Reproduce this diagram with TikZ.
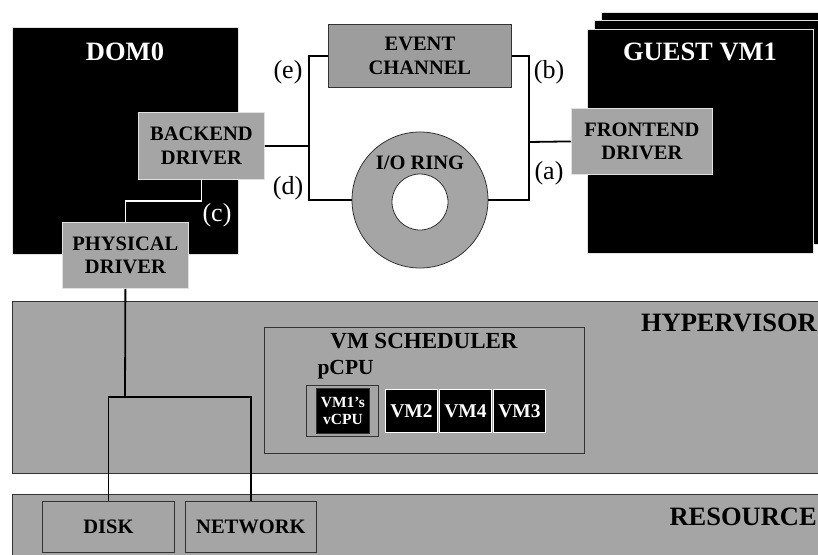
\documentclass[tikz,border=0pt]{standalone}
\usepackage{fontspec}
\setmainfont{Liberation Serif}
\begin{document}
\definecolor{boxgray}{RGB}{165,165,165}
\definecolor{edgelight}{RGB}{225,225,225}
\begin{tikzpicture}[x=1pt,y=-1pt,
  blk/.style={fill=black,draw=edgelight,line width=0.8pt,anchor=north west,inner sep=0pt},
  gbox/.style={fill=boxgray,draw=edgelight,line width=0.8pt,anchor=north west,inner sep=0pt,align=center,font=\fontsize{20.5}{23.5}\selectfont\bfseries},
  layer/.style={fill=boxgray,draw=black!80,line width=0.8pt,anchor=north west,inner sep=0pt},
  vmbox/.style={fill=black,draw=white,line width=0.8pt,anchor=north west,inner sep=0pt,text=white,align=center},
  title/.style={font=\fontsize{26.5}{29}\selectfont\bfseries},
  lbl/.style={font=\fontsize{26}{28}\selectfont},
  wire/.style={line width=1.8pt,black},
  wwire/.style={line width=1.8pt,white}]
\useasboundingbox (0,0) rectangle (818,554);
\clip (0,0) rectangle (818,554);
% layers
\node[layer,minimum width=830pt,minimum height=172pt] (hyp) at (12,301) {};
\node[layer,minimum width=830pt,minimum height=80pt] (res) at (12,494) {};
\node[title,anchor=east,inner sep=0pt] (hyptxt) at (817,323) {HYPERVISOR};
\node[title,anchor=east,inner sep=0pt] (restxt) at (817,517) {RESOURCE};
% dom0
\node[blk,minimum width=226pt,minimum height=227pt] (dom0) at (12,27) {};
\node[title,text=white] (dom0txt) at (125,52) {DOM0};
\node[gbox,minimum width=126pt,minimum height=67pt] (backend) at (138,112) {BACKEND\\DRIVER};
\node[gbox,minimum width=126pt,minimum height=66pt] (phys) at (62,222) {PHYSICAL\\DRIVER};
\draw[wwire] (backend.south) -- ++(0,21) -| (phys.north);
\node[lbl,text=white] (clbl) at (217,215) {(c)};
% guest stack
\node[blk,minimum width=226pt,minimum height=224pt] (g3) at (601,12) {};
\node[blk,minimum width=226pt,minimum height=224pt] (g2) at (594,20) {};
\node[blk,minimum width=226pt,minimum height=224pt] (g1) at (587,29) {};
\node[title,text=white] (guesttxt) at (700,52) {GUEST VM1};
\node[gbox,minimum width=141pt,minimum height=66pt] (front) at (571,108) {FRONTEND\\DRIVER};
% event channel and ring
\node[gbox,fill=boxgray!95!black,draw=black!80,minimum width=183pt,minimum height=63pt] (echan) at (328,24) {EVENT\\CHANNEL};
\node[circle,fill=boxgray,draw=black!80,line width=0.8pt,minimum size=136pt,inner sep=0pt] (ring) at (420,200) {};
\node[circle,fill=white,draw=black!80,line width=0.8pt,minimum size=56pt,inner sep=0pt] (hole) at (420,202) {};
\node[font=\fontsize{20.5}{23.5}\selectfont\bfseries] (ringtxt) at (420,163) {I/O RING};
\coordinate (lbus) at (309,146);
\coordinate (rbus) at (529,142);
\draw[wire] (backend.east) -- (lbus);
\draw[wire] (echan.west) -| (lbus) |- (ring.west);
\draw[wire] (echan.east) -| (rbus) |- (ring.east);
\draw[wire] (rbus) -- (front.west);
\node[lbl] (elbl) at (288,72) {(e)};
\node[lbl] (dlbl) at (288,188) {(d)};
\node[lbl] (blbl) at (549,72) {(b)};
\node[lbl] (albl) at (549,173) {(a)};
% scheduler
\node[layer,minimum width=320pt,minimum height=126pt] (sched) at (264,327) {};
\node[font=\fontsize{23}{26}\selectfont\bfseries] (schedtxt) at (424,341) {VM SCHEDULER};
\node[font=\fontsize{21.5}{24}\selectfont\bfseries,anchor=west] (pcpu) at (314,370) {pCPU};
\node[layer,minimum width=72pt,minimum height=51pt] (pbox) at (306,385) {};
\node[vmbox,draw=black!80,minimum width=53pt,minimum height=45pt,font=\fontsize{15.5}{17}\selectfont\bfseries] (vm1) at (316,388) {VM1’s\\vCPU};
\node[vmbox,minimum width=52pt,minimum height=43pt,font=\fontsize{19.5}{21}\selectfont\bfseries] (vm2) at (385,389) {VM2};
\node[vmbox,minimum width=52pt,minimum height=43pt,font=\fontsize{19.5}{21}\selectfont\bfseries] (vm4) at (439,389) {VM4};
\node[vmbox,minimum width=52pt,minimum height=43pt,font=\fontsize{19.5}{21}\selectfont\bfseries] (vm3) at (493,389) {VM3};
% resources
\node[layer,minimum width=132pt,minimum height=51pt,font=\fontsize{20.5}{23}\selectfont\bfseries] (disk) at (42,501) {DISK};
\node[layer,minimum width=131pt,minimum height=51pt,font=\fontsize{20.5}{23}\selectfont\bfseries] (net) at (185,501) {NETWORK};
\coordinate (split) at (125,397);
\draw[wire] (phys.south) -- (split);
\draw[wire] (disk.north) |- (split) -| (net.north);
\end{tikzpicture}
\end{document}
